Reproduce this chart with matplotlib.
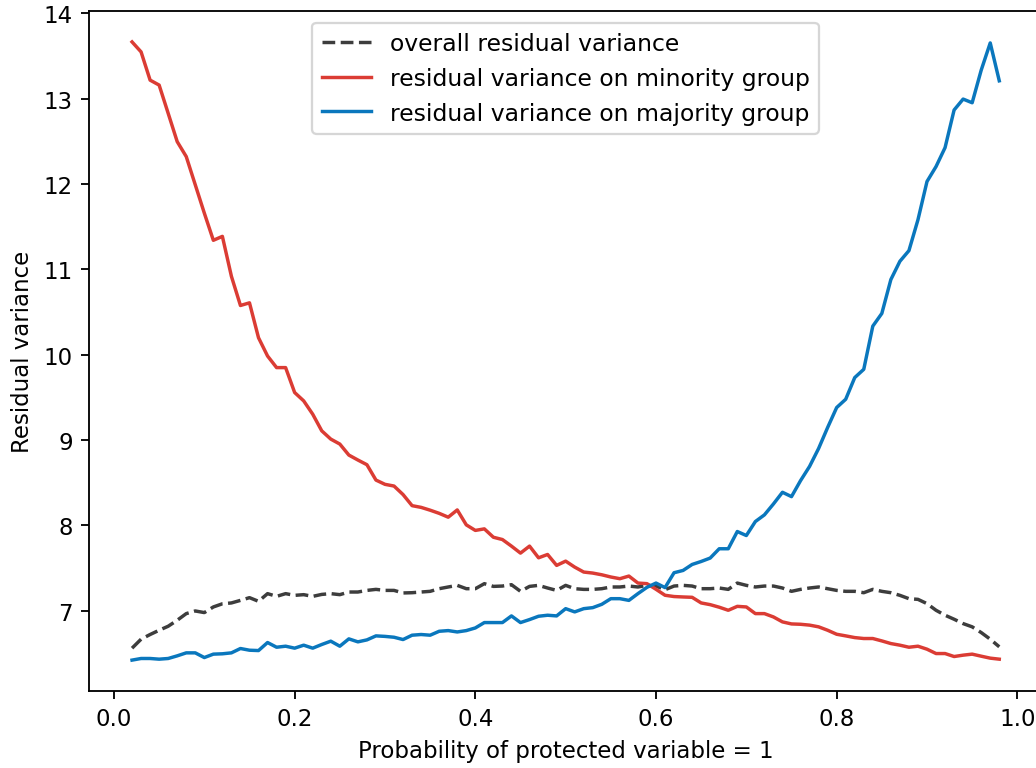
import numpy as np
import matplotlib
matplotlib.use("Agg")
import matplotlib.pyplot as plt

# probabilidad de la variable protegida (0.02 ... 0.98)
prob = np.round(np.arange(0.02, 0.985, 0.01), 2)

overall = [6.56, 6.665, 6.72, 6.77, 6.817, 6.887, 6.965, 6.996, 6.977, 7.043,
           7.08, 7.09, 7.12, 7.152, 7.109, 7.199, 7.167, 7.199, 7.179, 7.187,
           7.167, 7.19, 7.199, 7.187, 7.218, 7.218, 7.237, 7.249, 7.237, 7.237,
           7.207, 7.21, 7.218, 7.226, 7.257, 7.277, 7.296, 7.257, 7.257, 7.316,
           7.284, 7.288, 7.304, 7.226, 7.284, 7.296, 7.265, 7.237, 7.296, 7.257,
           7.249, 7.249, 7.257, 7.277, 7.277, 7.288, 7.277, 7.296, 7.288, 7.245,
           7.288, 7.296, 7.288, 7.257, 7.257, 7.265, 7.249, 7.323, 7.296, 7.277,
           7.288, 7.288, 7.265, 7.226, 7.249, 7.265, 7.277, 7.257, 7.237, 7.226,
           7.226, 7.21, 7.249, 7.226, 7.21, 7.179, 7.14, 7.132, 7.082, 7.004,
           6.946, 6.899, 6.848, 6.81, 6.743, 6.665, 6.576]

minority = [13.665, 13.548, 13.217, 13.159, 12.828, 12.496, 12.321, 11.99, 11.659, 11.34,
            11.386, 10.918, 10.576, 10.607, 10.198, 9.984, 9.848, 9.848, 9.556, 9.458,
            9.302, 9.107, 9.01, 8.952, 8.823, 8.765, 8.71, 8.53, 8.48, 8.46,
            8.36, 8.23, 8.21, 8.177, 8.14, 8.095, 8.18, 8.005, 7.94, 7.958,
            7.86, 7.833, 7.756, 7.674, 7.756, 7.619, 7.658, 7.53, 7.58, 7.51,
            7.452, 7.44, 7.42, 7.394, 7.374, 7.405, 7.323, 7.316, 7.25, 7.18,
            7.165, 7.16, 7.156, 7.09, 7.07, 7.04, 7.004, 7.05, 7.043, 6.965,
            6.965, 6.926, 6.868, 6.844, 6.84, 6.83, 6.81, 6.77, 6.723, 6.704,
            6.684, 6.673, 6.673, 6.645, 6.614, 6.595, 6.571, 6.583, 6.548, 6.497,
            6.497, 6.462, 6.478, 6.49, 6.466, 6.443, 6.431]

majority = [6.42, 6.439, 6.439, 6.431, 6.439, 6.47, 6.505, 6.505, 6.45, 6.49,
            6.494, 6.505, 6.556, 6.536, 6.532, 6.626, 6.571, 6.583, 6.56, 6.595,
            6.56, 6.603, 6.642, 6.583, 6.669, 6.634, 6.657, 6.704, 6.698, 6.688,
            6.661, 6.712, 6.72, 6.712, 6.758, 6.766, 6.75, 6.766, 6.797, 6.86,
            6.86, 6.86, 6.938, 6.86, 6.895, 6.934, 6.946, 6.938, 7.023, 6.985,
            7.023, 7.035, 7.074, 7.14, 7.14, 7.12, 7.199, 7.273, 7.323, 7.27,
            7.444, 7.471, 7.541, 7.576, 7.616, 7.725, 7.725, 7.927, 7.88, 8.044,
            8.122, 8.25, 8.387, 8.336, 8.523, 8.69, 8.9, 9.146, 9.38, 9.477,
            9.731, 9.828, 10.334, 10.483, 10.88, 11.094, 11.219, 11.581, 12.029, 12.204,
            12.426, 12.867, 12.995, 12.952, 13.334, 13.653, 13.209]

DPI = 165
fig = plt.figure(figsize=(1036 / DPI, 769 / DPI), dpi=DPI)
ax = fig.add_axes([0.0856, 0.1001, 0.9208, 0.8843])

ax.plot(prob, overall, "--", color="#3d3d3d", lw=1.5, label="overall residual variance")
ax.plot(prob, minority, color="#db3c34", lw=1.5, label="residual variance on minority group")
ax.plot(prob, majority, color="#0a77bd", lw=1.5, label="residual variance on majority group")

ax.set_xlabel("Probability of protected variable = 1")
ax.set_ylabel("Residual variance")
ax.legend(loc="upper center", fontsize=10.25, handlelength=2.1)

fig.savefig("out.png", dpi=DPI)
